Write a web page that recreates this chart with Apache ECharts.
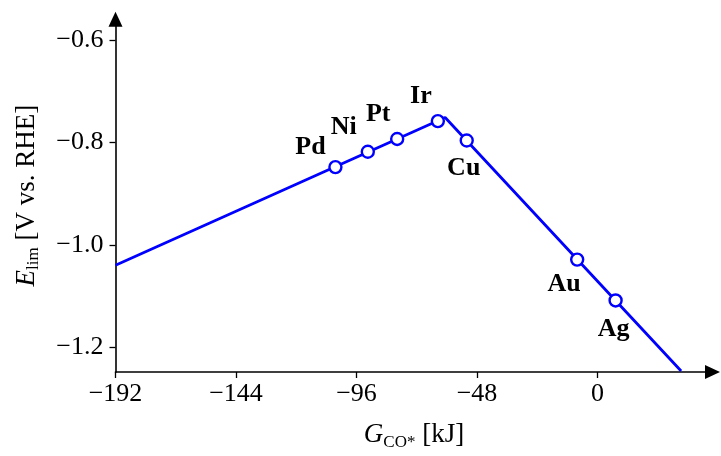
<!DOCTYPE html>
<html>
<head>
<meta charset="utf-8">
<script src="https://cdn.jsdelivr.net/npm/echarts@6/dist/echarts.min.js"></script>
<style>
  html, body { margin: 0; padding: 0; background: #ffffff; }
  #chart { width: 721px; height: 456px; }
</style>
</head>
<body>
<div id="chart"></div>
<script>
// ---- data ----
var xTicks = [-192, -144, -96, -48, 0];
var yTicks = [-1.2, -1.0, -0.8, -0.6];
var xRange = [-192, 45.8];
var yRange = [-1.249, -0.5586];
var lineX = [-192, -60.7, 33.3];
var lineY = [-1.040, -0.751, -1.247];
var metals = ['Pd', 'Ni', 'Pt', 'Ir', 'Cu', 'Au', 'Ag'];
var metalX = [-104.4, -91.5, -79.8, -63.6, -52.1, -8.1, 7.2];
var metalY = [-0.848, -0.818, -0.793, -0.758, -0.796, -1.029, -1.109];

// ---- label placement (style only) ----
var labelOffsets = [[-25, -20], [-24, -24], [-19, -25], [-17, -25], [-3, 28], [-13, 25], [-2, 29]];

var SERIF = 'Liberation Serif';
var BLUE = '#0000ff';
function fmt(v) {
  var s = (Math.abs(v) < 1e-9) ? '0' : String(v);
  if (yTicks.indexOf(v) >= 0) s = v.toFixed(1);
  return s.replace('-', '\u2212');
}

var chart = echarts.init(document.getElementById('chart'), null, { renderer: 'canvas' });

var lineData = lineX.map(function (x, i) { return [x, lineY[i]]; });
var pointData = metals.map(function (m, i) {
  return {
    name: m,
    value: [metalX[i], metalY[i]],
    label: { offset: labelOffsets[i] }
  };
});

var axisLineStyle = { color: '#000', width: 1.6 };
var nameRich = {
  i: { fontFamily: SERIF, fontStyle: 'italic', fontSize: 27, lineHeight: 32, color: '#000' },
  sub: { fontFamily: SERIF, fontSize: 17, lineHeight: 18, verticalAlign: 'bottom', color: '#000' },
  n: { fontFamily: SERIF, fontSize: 27, lineHeight: 32, color: '#000' }
};

chart.setOption({
  backgroundColor: '#ffffff',
  animation: false,
  grid: { left: 115.5, right: 8.5, top: 19.2, bottom: 81.7, containLabel: false },
  xAxis: {
    type: 'value',
    min: xRange[0],
    max: xRange[1],
    interval: 48,
    splitLine: { show: false },
    axisLine: { show: true, onZero: false, symbol: ['none', 'triangle'], symbolSize: [14, 15], lineStyle: axisLineStyle },
    axisTick: { show: true, length: 6, lineStyle: { color: '#000', width: 1.3 }, customValues: xTicks },
    axisLabel: {
      customValues: xTicks,
      formatter: function (v) { return fmt(v); },
      color: '#000', fontFamily: SERIF, fontSize: 26, margin: 9
    },
    name: '{i|G}{sub|CO*}{n| [kJ]}',
    nameLocation: 'middle',
    nameGap: 47,
    nameTextStyle: { fontSize: 27, fontFamily: SERIF, rich: nameRich }
  },
  yAxis: {
    type: 'value',
    min: yRange[0],
    max: yRange[1],
    splitLine: { show: false },
    axisLine: { show: true, onZero: false, symbol: ['none', 'triangle'], symbolSize: [14, 15], lineStyle: axisLineStyle },
    axisTick: { show: true, length: 6, lineStyle: { color: '#000', width: 1.3 }, customValues: yTicks },
    axisLabel: {
      customValues: yTicks,
      formatter: function (v) { return fmt(v); },
      color: '#000', fontFamily: SERIF, fontSize: 26, margin: 12
    },
    name: '{i|E}{sub|lim}{n| [V vs. RHE]}',
    nameLocation: 'middle',
    nameRotate: 90,
    nameGap: 73,
    nameTextStyle: { fontSize: 27, fontFamily: SERIF, rich: nameRich }
  },
  series: [
    {
      type: 'line',
      data: lineData,
      symbol: 'none',
      lineStyle: { color: BLUE, width: 2.8 },
      z: 2
    },
    {
      type: 'scatter',
      data: pointData,
      symbol: 'circle',
      symbolSize: 12,
      itemStyle: { color: '#ffffff', borderColor: BLUE, borderWidth: 2.4, opacity: 1 },
      label: {
        show: true,
        position: 'inside',
        formatter: '{b}',
        color: '#000',
        fontFamily: SERIF,
        fontWeight: 'bold',
        fontSize: 26
      },
      z: 3
    }
  ]
});
</script>
</body>
</html>
